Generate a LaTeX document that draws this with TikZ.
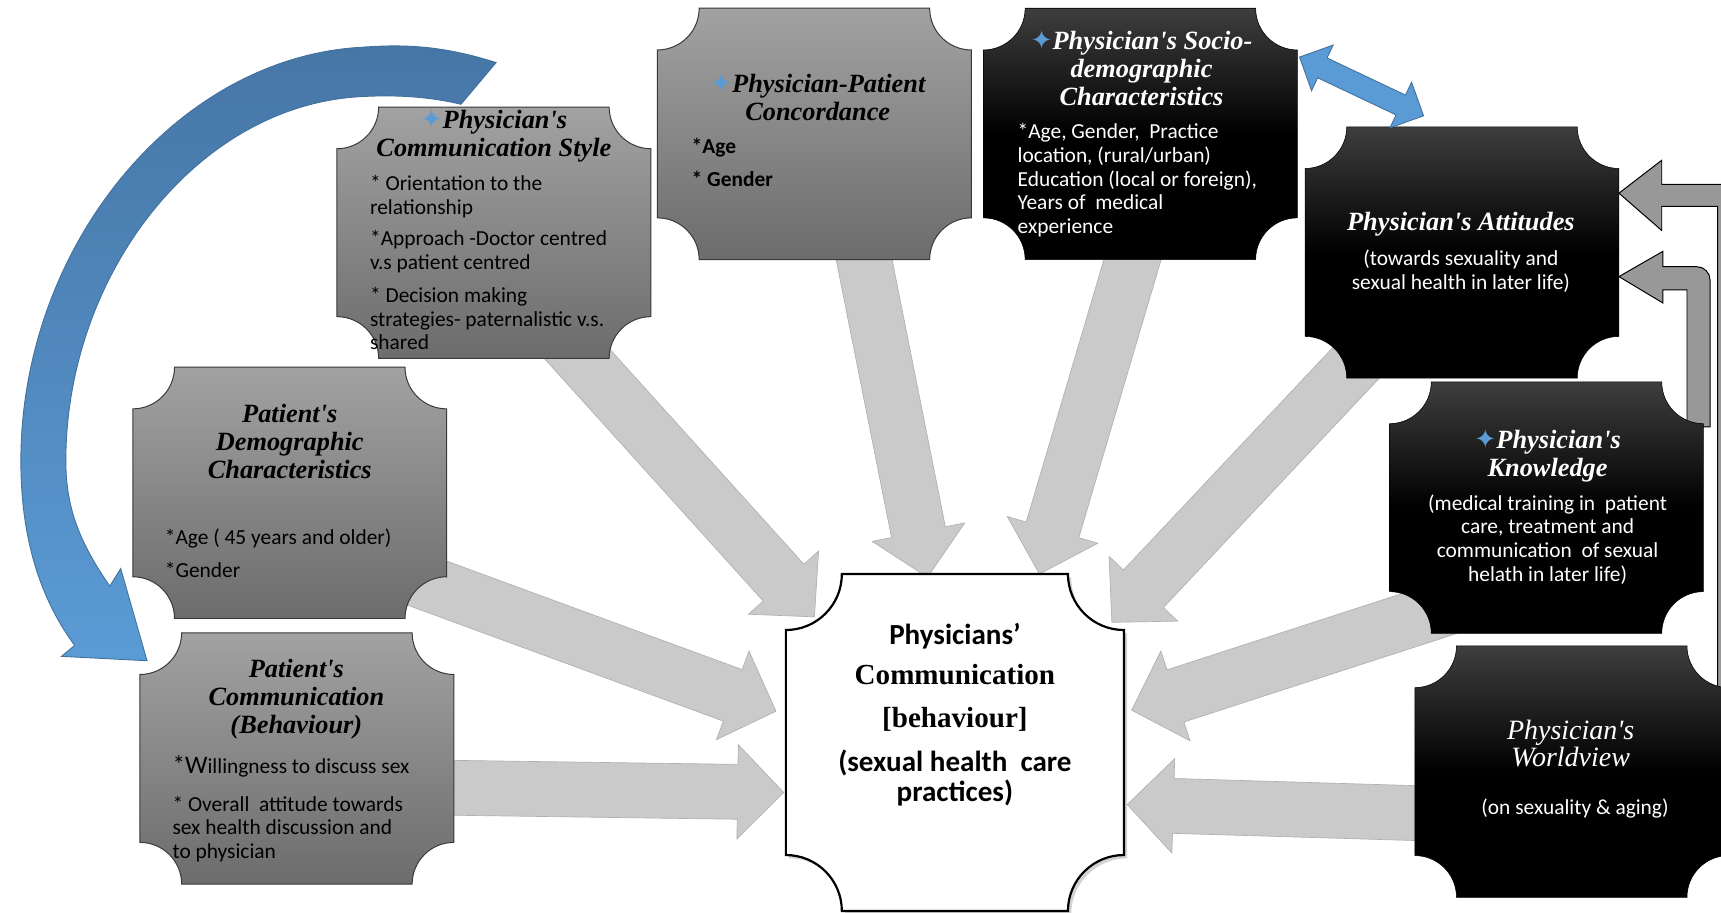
\documentclass[tikz,border=0pt]{standalone}
\usepackage{fontspec}
\setmainfont{Carlito}
\newfontfamily\headfont{Liberation Serif}
\newfontfamily\starfont{DejaVu Sans}
\usetikzlibrary{calc,positioning,shadows}

\definecolor{flowgrey}{HTML}{CACACA}
\definecolor{flowedge}{HTML}{B0B0B0}
\definecolor{paneltop}{HTML}{A2A2A2}
\definecolor{panelbot}{HTML}{6C6C6C}
\definecolor{paneledge}{HTML}{3A3A3A}
\definecolor{inktop}{HTML}{3E3E3E}
\definecolor{linkblue}{HTML}{5B9BD5}
\definecolor{linkdeep}{HTML}{41719C}
\definecolor{arctop}{HTML}{4676A6}
\definecolor{elbowgrey}{HTML}{989898}

\newcommand\ap{\textquotesingle}
\newcommand\spark{{\starfont\fontsize{24}{24}\selectfont\color{linkblue}✦}}

% panel with cut-in round corners around a node
\newcommand\plaque[3]{%
  \path[#3] ([xshift=#2]#1.north west) -- ([xshift=-#2]#1.north east)
    arc[start angle=180,end angle=270,radius=#2]
    -- ([yshift=#2]#1.south east)
    arc[start angle=90,end angle=180,radius=#2]
    -- ([xshift=#2]#1.south west)
    arc[start angle=0,end angle=90,radius=#2]
    -- ([yshift=-#2]#1.north west)
    arc[start angle=270,end angle=360,radius=#2] -- cycle;}

% block arrow: [style] from, to, half shaft, half head, head length
\newcommand\blockarrow[6][flow]{%
  \path[#1] ($(#2)!#4!90:(#3)$) -- ($(#3)!#6!(#2)!#4!-90:(#2)$)
    -- ($(#3)!#6!(#2)!#5!-90:(#2)$) -- (#3)
    -- ($(#3)!#6!(#2)!#5!90:(#2)$) -- ($(#3)!#6!(#2)!#4!90:(#2)$)
    -- ($(#2)!#4!-90:(#3)$) -- cycle;}

% same, with a head at both ends
\newcommand\twinarrow[6][link]{%
  \path[#1] (#2) -- ($(#2)!#6!(#3)!#5!90:(#3)$) -- ($(#2)!#6!(#3)!#4!90:(#3)$)
    -- ($(#3)!#6!(#2)!#4!-90:(#2)$) -- ($(#3)!#6!(#2)!#5!-90:(#2)$) -- (#3)
    -- ($(#3)!#6!(#2)!#5!90:(#2)$) -- ($(#3)!#6!(#2)!#4!90:(#2)$)
    -- ($(#2)!#6!(#3)!#4!-90:(#3)$) -- ($(#2)!#6!(#3)!#5!-90:(#3)$) -- cycle;}

\tikzset{
  panel/.style={minimum width=286pt, minimum height=229pt, inner sep=0pt, outer sep=0pt},
  flow/.style={fill=flowgrey, draw=flowedge, line width=0.6pt},
  link/.style={fill=linkblue, draw=linkdeep, line width=0.8pt},
  bluearc/.style={top color=arctop, bottom color=linkblue, draw=linkdeep, line width=0.8pt},
  elbow/.style={fill=elbowgrey, draw=black, line width=0.9pt},
  greyfill/.style={top color=paneltop, bottom color=panelbot, draw=paneledge, line width=0.9pt},
  inkfill/.style={top color=inktop, bottom color=black, middle color=black, draw=black, line width=0.5pt},
  head/.style={font=\headfont\bfseries\itshape\fontsize{24}{25.5}\selectfont, align=center,
    inner sep=0pt, anchor=north, execute at begin node=\strut},
  note/.style={font=\fontsize{19.5}{21.5}\selectfont, align=left, inner sep=0pt,
    anchor=north west, execute at begin node=\strut},
  midnote/.style={note, align=center, anchor=north}
}

\begin{document}
\begin{tikzpicture}[x=1pt,y=-1pt]
  \useasboundingbox (0,0) rectangle (1568,831);
  \clip (0,0) rectangle (1568,831);

  % the boxes (outlines drawn later)
  \node[panel] (Style) at (450,212) {};
  \node[panel] (Concord) at (742,122) {};
  \node[panel] (Socio) at (1039,122) {};
  \node[panel] (Attit) at (1332,230) {};
  \node[panel] (Know) at (1409,462.5) {};
  \node[panel] (World) at (1432,703) {};
  \node[panel] (PatDemo) at (264,449) {};
  \node[panel] (PatComm) at (270.5,691) {};
  \node[panel, minimum width=308pt, minimum height=307pt] (Behav) at (870,676.5) {};

  % arrow ends
  \coordinate (Style-out) at (474,265);   \coordinate (Behav-nw) at (742,562);
  \coordinate (Concord-out) at (780,200); \coordinate (Behav-n1) at (845,526);
  \coordinate (Socio-out) at (1045,192);  \coordinate (Behav-n2) at (947,523);
  \coordinate (Attit-out) at (1268,296);  \coordinate (Behav-ne) at (1013,567);
  \coordinate (Know-out) at (1333,549);   \coordinate (Behav-e1) at (1031,647);
  \coordinate (World-out) at (1330,742);  \coordinate (Behav-e2) at (1027,733);
  \coordinate (PatDemo-out) at (334,511); \coordinate (Behav-w1) at (707,648);
  \coordinate (PatComm-out) at (360,717); \coordinate (Behav-w2) at (714,722);

  % grey arrows into the middle box
  \foreach \s/\t in {Style-out/Behav-nw, Concord-out/Behav-n1, Socio-out/Behav-n2,
      Attit-out/Behav-ne, Know-out/Behav-e1, World-out/Behav-e2,
      PatDemo-out/Behav-w1, PatComm-out/Behav-w2}
    \blockarrow{\s}{\t}{25pt}{43pt}{42pt};

  % elbow arrows into the attitudes box
  \path[elbow] ([yshift=54pt]Attit.east) -- ++(39,-30) -- ++(0,22) -- ++(71,0)
    -- ++(0,592) -- ++(-20,0) -- ++(0,-572) -- ++(-51,0) -- ++(0,22) -- cycle;
  \path[elbow] ([yshift=-22pt]Attit.east) -- ++(40,-23) -- ++(0,14) -- ++(31,0)
    arc[start angle=90,end angle=0,radius=12pt] -- ++(0,134) -- ++(-21,0)
    -- ++(0,-125) -- ++(-22,0) -- ++(0,12) -- cycle;

  % panels
  \foreach \b in {Style,Concord,PatDemo,PatComm} {\plaque{\b}{38pt}{greyfill}}
  \foreach \b in {Socio,Attit,Know,World} {\plaque{\b}{38pt}{inkfill}}
  \plaque{Behav}{51pt}{fill=white, draw=black, line width=2pt,
    drop shadow={shadow xshift=3pt, shadow yshift=-3pt, opacity=0.35}}

  % texts
  \node[head] (Style-head) at (450,99) {\spark Physician\ap s\\Communication Style};
  \node[note] (Style-note) at (337,159.5) {* Orientation to the\\relationship\\[7.5pt]%
    *Approach -Doctor centred\\v.s patient centred\\[8.5pt]* Decision making\\%
    strategies- paternalistic v.s.\\shared};

  \node[head] (Concord-head) at (745,66) {\spark Physician-Patient\\Concordance};
  \node[note, font=\fontsize{19.5}{21.5}\selectfont\bfseries] (Concord-note) at (630,125.5) {*Age\\[8.5pt]* Gender};

  \node[head, text=white] (Socio-head) at (1040,27) {\spark Physician\ap s Socio-\\demographic\\Characteristics};
  \node[note, text=white] (Socio-note) at (927,112.5) {*Age, Gender, \ Practice\\%
    location, (rural/urban)\\Education (local or foreign),\\Years of \ medical\\experience};

  \node[head, text=white] (Attit-head) at (1331,192) {Physician\ap s Attitudes};
  \node[midnote, text=white] (Attit-note) at (1331,227.5) {(towards sexuality and\\sexual health in later life)};

  \node[head, text=white] (Know-head) at (1410,391) {\spark Physician\ap s\\Knowledge};
  \node[midnote, text=white] (Know-note) at (1410,450.5) {(medical training in \ patient\\%
    care, treatment and\\communication \ of sexual\\helath in later life)};

  \node[head, text=white, font=\headfont\itshape\fontsize{25.5}{24.5}\selectfont] (World-head) at (1431,656) {Physician\ap s\\Worldview};
  \node[midnote, text=white] (World-note) at (1435,726.5) {(on sexuality \& aging)};

  \node[head] (PatDemo-head) at (264,368) {Patient\ap s\\Demographic\\Characteristics};
  \node[note] (PatDemo-note) at (150,481.5) {*Age ( 45 years and older)\\[8.5pt]*Gender};

  \node[head] (PatComm-head) at (270,600) {Patient\ap s\\Communication\\(Behaviour)};
  \node[note] (PatComm-note) at (157,688.5) {{\fontsize{23}{21.5}\selectfont *W}illingness to discuss sex\\[12.5pt]%
    * Overall \ attitude towards\\sex health discussion and\\to physician};

  \node[font=\bfseries\fontsize{26.5}{28}\selectfont, align=center, inner sep=0pt, anchor=north,
    execute at begin node=\strut] (Behav-text) at (870,568)
    {Physicians’\\[8pt]{\headfont Communication}\\[11pt]{\headfont [behaviour]}\\[12pt]%
     (sexual health \ care\\practices)};

  % blue links
  \coordinate (Socio-link) at ([shift={(2pt,70pt)}]Socio.east);
  \coordinate (Attit-link) at ([shift={(-35pt,10pt)}]Attit.north);
  \twinarrow{Socio-link}{Attit-link}{10pt}{23pt}{23pt}

  \path[bluearc] (452,57) .. controls (405,42) and (370,40) .. (330,43)
    .. controls (160,52) and (19,225) .. (19,420)
    .. controls (19,497) and (40,550) .. (68,588)
    -- (56,598) -- (134,602) -- (110,518) -- (100,534)
    .. controls (74,496) and (60,465) .. (60,420)
    .. controls (60,250) and (180,95) .. (330,88)
    .. controls (365,86) and (395,89) .. (420,95) -- cycle;
\end{tikzpicture}
\end{document}
